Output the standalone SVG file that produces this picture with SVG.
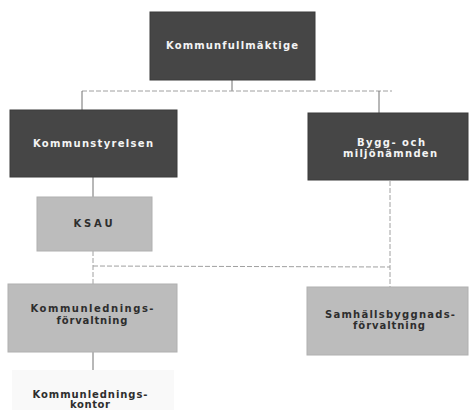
<svg xmlns="http://www.w3.org/2000/svg" width="470" height="410" viewBox="0 0 470 410">
<style>
.dark{fill:#464646;stroke:#3a3a3a;stroke-width:1}
.light{fill:#bcbcbc;stroke:#b0b0b0;stroke-width:1}
.faint{fill:#f9f9f9;stroke:none}
.tw{font-family:"DejaVu Sans","Liberation Sans",sans-serif;font-weight:bold;font-size:10px;fill:#f4f4f4;text-anchor:middle}
.tb{font-family:"DejaVu Sans","Liberation Sans",sans-serif;font-weight:bold;font-size:10px;fill:#2e2e2e;text-anchor:middle}
.v{stroke:#707070;stroke-width:1;fill:none}
.h{stroke:#a0a0a0;stroke-width:1;fill:none;stroke-dasharray:5 2}
</style>
<rect width="470" height="410" fill="#ffffff"/>
<g id="connectors">
<line class="v" x1="232" y1="80" x2="232" y2="91"/>
<line class="h" x1="82" y1="91" x2="392" y2="91"/>
<line class="v" x1="82" y1="91" x2="82" y2="110"/>
<line class="v" x1="379" y1="91" x2="379" y2="113"/>
<line class="v" x1="93" y1="177" x2="93" y2="197"/>
<line class="h" x1="93" y1="251" x2="93" y2="284"/>
<line class="h" x1="93" y1="266" x2="390" y2="267"/>
<line class="h" x1="390" y1="181" x2="390" y2="287"/>
<line class="v" x1="93" y1="352" x2="93" y2="370"/>
</g>
<g id="kommunfullmaktige">
<rect class="dark" x="150" y="12" width="165" height="68"/>
<text class="tw" x="232" y="49" textLength="132">Kommunfullmäktige</text>
</g>
<g id="kommunstyrelsen">
<rect class="dark" x="10" y="110" width="167" height="67"/>
<text class="tw" x="93" y="147" textLength="120">Kommunstyrelsen</text>
</g>
<g id="bygg">
<rect class="dark" x="308" y="113" width="160" height="67"/>
<text class="tw" x="391" y="146" textLength="68">Bygg- och</text>
<text class="tw" x="390" y="157" textLength="94">miljönämnden</text>
</g>
<g id="ksau">
<rect class="light" x="37" y="197" width="115" height="54"/>
<text class="tb" x="93" y="227" textLength="39">KSAU</text>
</g>
<g id="kommunledningsforvaltning">
<rect class="light" x="8" y="284" width="169" height="68"/>
<text class="tb" x="92" y="312" textLength="123">Kommunlednings-</text>
<text class="tb" x="92" y="324" textLength="71">förvaltning</text>
</g>
<g id="samhallsbyggnadsforvaltning">
<rect class="light" x="307" y="287" width="161" height="68"/>
<text class="tb" x="390" y="318" textLength="130">Samhällsbyggnads-</text>
<text class="tb" x="389" y="329" textLength="72">förvaltning</text>
</g>
<g id="kommunledningskontor">
<rect class="faint" x="12" y="370" width="162" height="40"/>
<text class="tb" x="90" y="398" textLength="115">Kommunlednings-</text>
<text class="tb" x="90" y="408" textLength="40">kontor</text>
</g>
</svg>
